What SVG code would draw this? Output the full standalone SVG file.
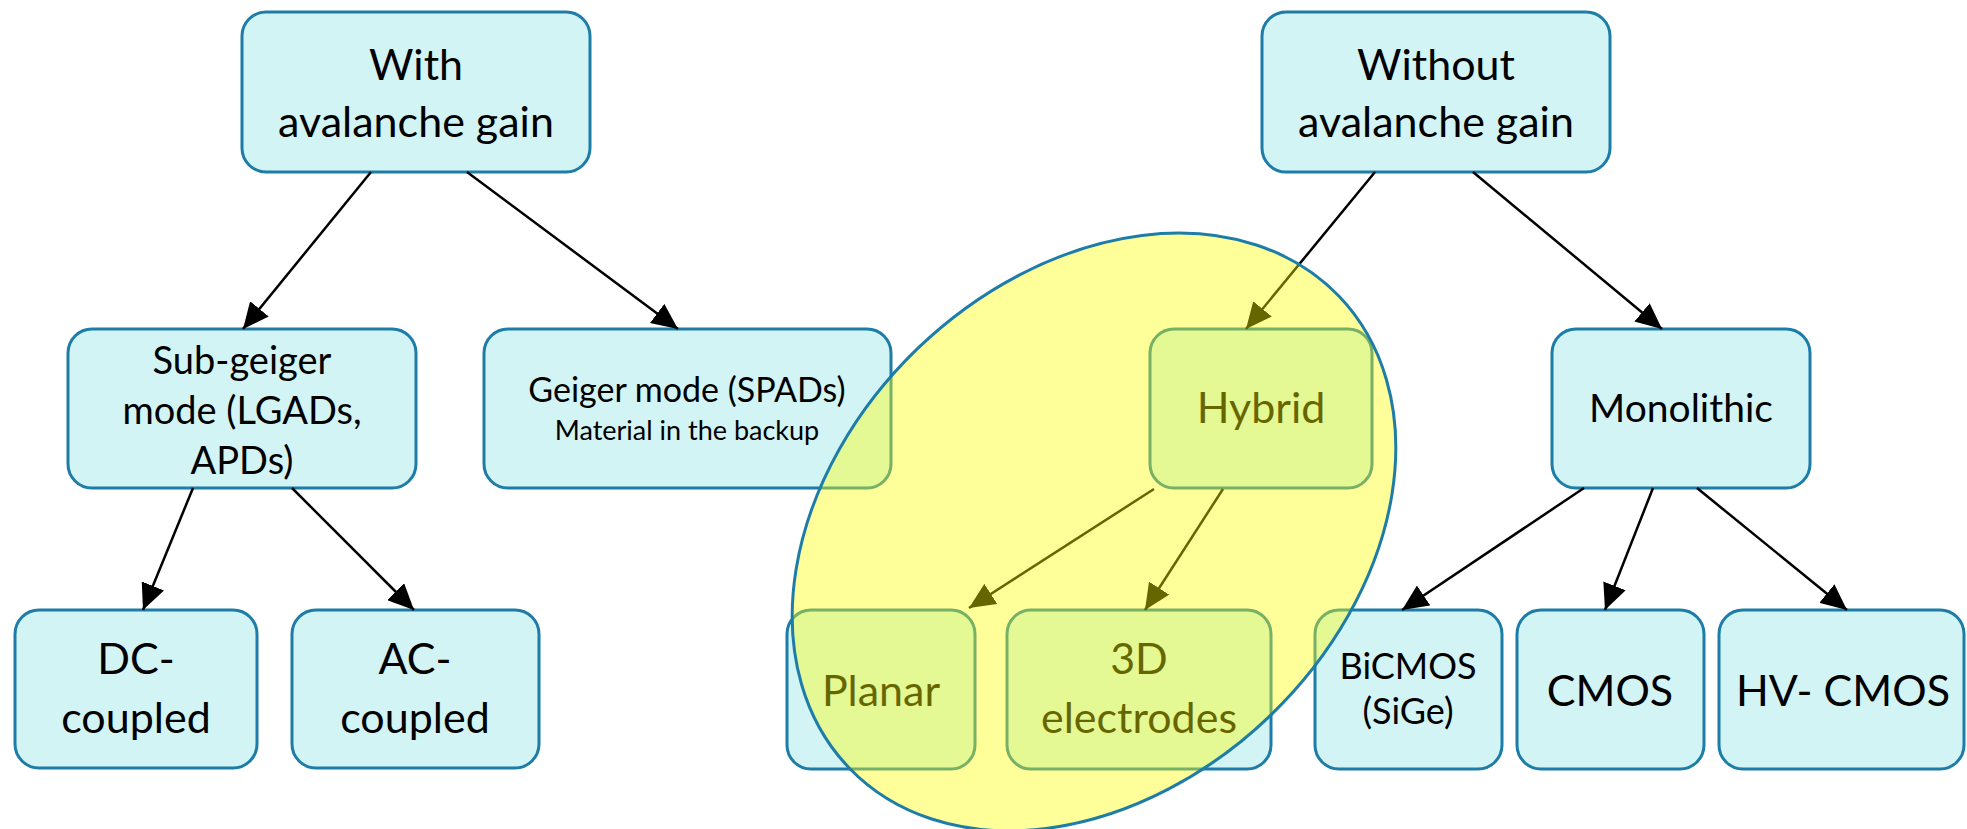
<svg xmlns="http://www.w3.org/2000/svg" width="1967" height="829" viewBox="0 0 1967 829">
  <defs>
    <style>
      .box { fill: #D3F4F5; stroke: #1D7DA8; stroke-width: 3; }
      .lbl { font-family: Lato, "Liberation Sans", sans-serif; fill: #000; text-anchor: middle; }
      .edge { stroke: #000; stroke-width: 2.5; fill: none; marker-end: url(#arrow); }
      .halo { fill: #FFFF00; fill-opacity: 0.4; stroke: #1D7DA8; stroke-width: 3; }
    </style>
    <marker id="arrow" viewBox="0 0 26 24" refX="26" refY="12" markerWidth="26" markerHeight="24" markerUnits="userSpaceOnUse" orient="auto">
      <path d="M0,0 L26,12 L0,24 z" fill="#000"/>
    </marker>
  </defs>
  <rect width="1967" height="829" fill="#fff"/>

  <!-- top level -->
  <g id="with-gain">
    <rect class="box" x="242" y="12" width="348" height="160" rx="24"/>
    <text class="lbl" font-size="43" x="416" y="80">With</text>
    <text class="lbl" font-size="43" x="416" y="137">avalanche gain</text>
  </g>
  <g id="without-gain">
    <rect class="box" x="1262" y="12" width="348" height="160" rx="24"/>
    <text class="lbl" font-size="43" x="1436" y="80">Without</text>
    <text class="lbl" font-size="43" x="1436" y="137">avalanche gain</text>
  </g>

  <!-- second level -->
  <g id="sub-geiger">
    <rect class="box" x="68" y="329" width="348" height="159" rx="24"/>
    <text class="lbl" font-size="38" x="242" y="374">Sub-geiger</text>
    <text class="lbl" font-size="38" x="242" y="424">mode (LGADs,</text>
    <text class="lbl" font-size="38" x="242" y="474">APDs)</text>
  </g>
  <g id="geiger">
    <rect class="box" x="484" y="329" width="407" height="159" rx="24"/>
    <text class="lbl" font-size="34" x="687" y="402">Geiger mode (SPADs)</text>
    <text class="lbl" font-size="27" x="687" y="440">Material in the backup</text>
  </g>
  <g id="hybrid">
    <rect class="box" x="1150" y="329" width="222" height="159" rx="24"/>
    <text class="lbl" font-size="43" x="1261" y="423">Hybrid</text>
  </g>
  <g id="monolithic">
    <rect class="box" x="1552" y="329" width="258" height="159" rx="24"/>
    <text class="lbl" font-size="39" x="1681" y="422">Monolithic</text>
  </g>

  <!-- third level -->
  <g id="dc-coupled">
    <rect class="box" x="15" y="610" width="242" height="158" rx="24"/>
    <text class="lbl" font-size="43" x="136" y="674">DC-</text>
    <text class="lbl" font-size="43" x="136" y="733">coupled</text>
  </g>
  <g id="ac-coupled">
    <rect class="box" x="292" y="610" width="247" height="158" rx="24"/>
    <text class="lbl" font-size="43" x="415" y="674">AC-</text>
    <text class="lbl" font-size="43" x="415" y="733">coupled</text>
  </g>
  <g id="planar">
    <rect class="box" x="787" y="610" width="188" height="159" rx="24"/>
    <text class="lbl" font-size="43" x="881" y="706">Planar</text>
  </g>
  <g id="electrodes-3d">
    <rect class="box" x="1007" y="610" width="264" height="159" rx="24"/>
    <text class="lbl" font-size="43" x="1139" y="674">3D</text>
    <text class="lbl" font-size="43" x="1139" y="733">electrodes</text>
  </g>
  <g id="bicmos">
    <rect class="box" x="1315" y="610" width="187" height="159" rx="24"/>
    <text class="lbl" font-size="36" x="1408" y="679">BiCMOS</text>
    <text class="lbl" font-size="36" x="1408" y="724">(SiGe)</text>
  </g>
  <g id="cmos">
    <rect class="box" x="1517" y="610" width="187" height="159" rx="24"/>
    <text class="lbl" font-size="43" x="1610" y="706">CMOS</text>
  </g>
  <g id="hv-cmos">
    <rect class="box" x="1719" y="610" width="245" height="159" rx="24"/>
    <text class="lbl" font-size="43" x="1843" y="706">HV- CMOS</text>
  </g>

  <!-- connectors -->
  <g id="connectors">
    <line class="edge" x1="371" y1="172" x2="243" y2="329"/>
    <line class="edge" x1="467" y1="172" x2="678" y2="329"/>
    <line class="edge" x1="1375" y1="172" x2="1246" y2="329"/>
    <line class="edge" x1="1473" y1="172" x2="1662" y2="329"/>
    <line class="edge" x1="193" y1="488" x2="143" y2="610"/>
    <line class="edge" x1="292" y1="488" x2="414" y2="610"/>
    <line class="edge" x1="1154" y1="489" x2="969" y2="608"/>
    <line class="edge" x1="1223" y1="489" x2="1145" y2="610"/>
    <line class="edge" x1="1584" y1="488" x2="1402" y2="610"/>
    <line class="edge" x1="1653" y1="488" x2="1605" y2="610"/>
    <line class="edge" x1="1697" y1="488" x2="1847" y2="610"/>
  </g>

  <!-- highlight around the hybrid branch -->
  <ellipse id="hybrid-highlight" class="halo" cx="1094" cy="532" rx="340" ry="254.5" transform="rotate(-44 1094 532)"/>
</svg>
